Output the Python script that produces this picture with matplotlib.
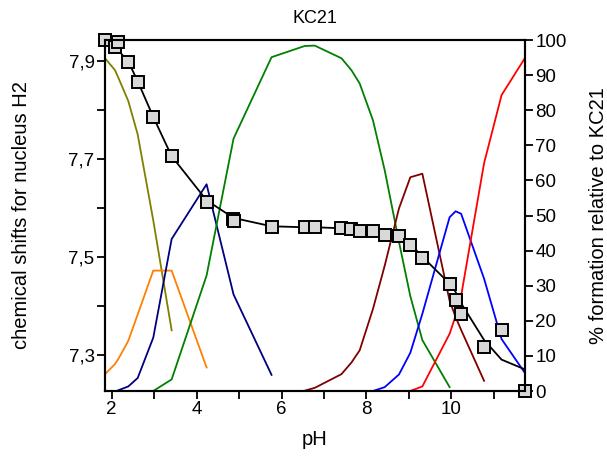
import numpy as np
import matplotlib
matplotlib.use('Agg')
import matplotlib.pyplot as plt
from matplotlib.ticker import FuncFormatter, MultipleLocator, FixedLocator

nan = np.nan

# experimental shifts (squares)
ph_obs = [1.842, 2.078, 2.155, 2.391, 2.612, 2.979, 3.412, 4.235, 4.861,
          4.878, 5.765, 6.548, 6.784, 7.412, 7.647, 7.842, 8.155, 8.431,
          8.767, 9.035, 9.318, 9.960, 10.101, 10.231, 10.772, 11.184, 11.736]
shift_obs = [7.943, 7.929, 7.939, 7.899, 7.858, 7.786, 7.706, 7.613, 7.577,
             7.573, 7.562, 7.562, 7.562, 7.559, 7.557, 7.553, 7.554, 7.546,
             7.543, 7.524, 7.499, 7.445, 7.412, 7.385, 7.317, 7.351, 7.227]

# calculated curve + species distribution
ph_calc = [1.842, 2.078, 2.155, 2.391, 2.612, 2.979, 3.412, 4.235, 4.87,
           5.765, 6.548, 6.784, 7.412, 7.647, 7.842, 8.155, 8.431, 8.767,
           9.035, 9.318, 9.960, 10.101, 10.231, 10.772, 11.184, 11.736]
shift_calc = [7.943, 7.929, 7.922, 7.899, 7.859, 7.786, 7.706, 7.616, 7.580,
              7.563, 7.561, 7.561, 7.559, 7.556, 7.554, 7.551, 7.546, 7.540,
              7.527, 7.501, 7.446, 7.429, 7.406, 7.331, 7.291, 7.271]

sp_olive = [94.8, 91.4, 89.3, 82.6, 73.1, 48.6, 17.3] + [nan] * 19
sp_orange = [4.8, 7.7, 9.1, 14.3, 21.8, 34.3, 34.3, 6.7] + [nan] * 18
sp_navy = [nan, nan, 0.2, 1.3, 3.7, 15.2, 43.3, 58.9, 27.5, 4.6] + [nan] * 16
sp_green = [nan] * 5 + [0.0, 3.3, 32.9, 71.9, 95.1, 98.3, 98.4, 94.8, 91.4,
                        87.6, 77.1, 62.9, 42.5, 27.0, 14.5, 1.1] + [nan] * 5
sp_maroon = [nan] * 10 + [0.1, 0.9, 4.8, 8.1, 11.6, 23.4, 35.7, 52.0, 60.9,
                          61.9, 25.7, 21.1, 17.4, 2.9] + [nan] * 2
sp_blue = [nan] * 15 + [0.0, 1.1, 4.7, 10.9, 22.0, 49.5, 51.2, 50.5, 32.0,
                        14.8, 5.1]
sp_red = [nan] * 18 + [0.0, 1.3, 16.3, 21.4, 27.1, 64.9, 84.3, 94.9]

species = [(sp_olive, '#808000'), (sp_orange, '#ff8000'), (sp_navy, '#000080'),
           (sp_green, '#008000'), (sp_maroon, '#800000'), (sp_blue, '#0000ff'),
           (sp_red, '#ff0000')]

left_ticks = [7.3, 7.5, 7.7, 7.9]
left_minor = [7.4, 7.6, 7.8]

plt.rcParams['font.family'] = ['Liberation Sans', 'DejaVu Sans']
fs_tick = 13.5
fs_lab = 14.5

fig = plt.figure(figsize=(6.07, 4.57), dpi=100)
ax = fig.add_axes([105/607, 1 - 391/457, 420/607, 351/457])
ax2 = ax.twinx()

for vals, c in species:
    ax2.plot(ph_calc, vals, color=c, lw=1.3)
ax2.set_ylim(0, 100)
ax2.yaxis.set_major_locator(MultipleLocator(10))

ax.plot(ph_calc, shift_calc, color='black', lw=1.3)
ax.plot(ph_obs, shift_obs, ls='none', marker='s', ms=9, mfc='#d8d8d8',
        mec='black', mew=1.4, clip_on=False)
ax.set_zorder(ax2.get_zorder() + 1)
ax.patch.set_visible(False)

ax.set_xlim(ph_obs[0], ph_obs[-1])
ax.set_ylim(min(shift_obs), max(shift_obs))
ax.xaxis.set_major_locator(MultipleLocator(2))
ax.xaxis.set_minor_locator(MultipleLocator(1))
ax.yaxis.set_major_locator(FixedLocator(left_ticks))
ax.yaxis.set_minor_locator(FixedLocator(left_minor))
ax.yaxis.set_major_formatter(FuncFormatter(lambda v, p: ('%.1f' % v).replace('.', ',')))

for a in (ax, ax2):
    for s in a.spines.values():
        s.set_linewidth(1.5)
    a.tick_params(which='both', direction='out', length=5.5, width=1.3,
                  labelsize=fs_tick, pad=2)

ax.set_title('KC21', fontsize=13, pad=12)
ax.set_xlabel('pH', fontsize=fs_lab, labelpad=8)
ax.set_ylabel('chemical shifts for nucleus H2', fontsize=fs_lab, labelpad=27)
ax2.set_ylabel('% formation relative to KC21', fontsize=fs_lab, labelpad=16)

fig.savefig('out.png', dpi=100)
